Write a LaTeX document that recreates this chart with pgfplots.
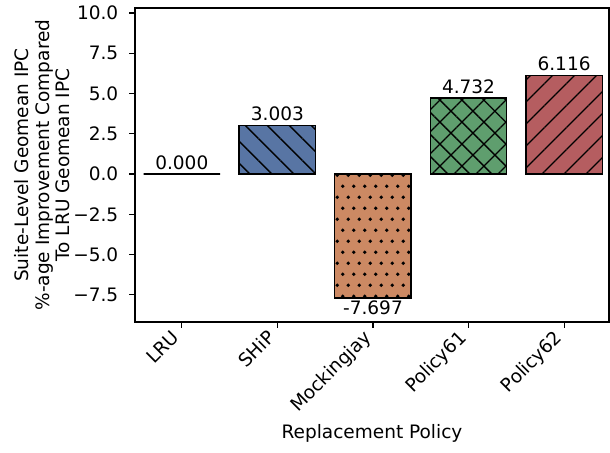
\documentclass[border=0pt]{standalone}
\usepackage{pgfplots}
\pgfplotsset{compat=1.18}
\usepackage{fontspec}
\setmainfont{DejaVu Sans}
\usetikzlibrary{patterns,patterns.meta}
\definecolor{cblue}{HTML}{5875A4}
\definecolor{corange}{HTML}{CC8963}
\definecolor{cgreen}{HTML}{5F9E6E}
\definecolor{cred}{HTML}{B55D60}
\pgfdeclarepatternformonly{sdots}{\pgfpointorigin}{\pgfpoint{5.94pt}{11.88pt}}{\pgfpoint{5.94pt}{11.88pt}}{%
  \pgfpathcircle{\pgfpoint{1.5pt}{1.5pt}}{1.0pt}%
  \pgfpathcircle{\pgfpoint{4.47pt}{7.44pt}}{1.0pt}%
  \pgfusepath{fill}}
\begin{document}
\fontsize{10}{11.5}\selectfont
\begin{tikzpicture}
\begin{axis}[
  scale only axis,
  width=256pt, height=169.6pt,
  xmin=-0.49, xmax=4.47,
  ymin=-9.19, ymax=10.31,
  xtick={0,1,2,3,4},
  xticklabels={LRU,SHiP,Mockingjay,Policy61,Policy62},
  xticklabel style={xshift=-6pt, yshift=1pt, rotate=45, anchor=north east, inner sep=1pt, font=\fontsize{10}{12}\selectfont},
  ytick={-7.5,-5,-2.5,0,2.5,5,7.5,10},
  yticklabels={−7.5,−5.0,−2.5,0.0,2.5,5.0,7.5,10.0},
  yticklabel style={xshift=-2.5pt, font=\fontsize{10}{12}\selectfont},
  tick align=outside,
  major tick length=3pt,
  xtick pos=bottom, ytick pos=left,
  axis line style={line width=0.6pt},
  tick style={line width=0.6pt, black},
  xlabel={Replacement Policy},
  ylabel={Suite-Level Geomean IPC\\\%-age Improvement Compared\\To LRU Geomean IPC},
  ylabel shift=-5pt,
  ylabel style={align=center, font=\fontsize{10}{11}\selectfont},
  xlabel style={font=\fontsize{10}{12}\selectfont},
  ybar, bar width=0.8, bar shift=0pt,
  nodes near coords,
  nodes near coords style={font=\fontsize{10}{12}\selectfont, inner sep=2pt, /pgf/number format/fixed, /pgf/number format/fixed zerofill, /pgf/number format/precision=3, /pgf/number format/assume math mode=true},
  every axis plot/.append style={draw=black, line width=0.8pt},
]
\addplot[fill=white] coordinates {(0,0.000)};
\addplot[fill=cblue, postaction={pattern={Lines[angle=-45,distance=8.4pt,line width=0.7pt]}, pattern color=black}] coordinates {(1,3.003)};
\addplot[fill=corange, postaction={pattern=sdots, pattern color=black}, nodes near coords style={inner sep=1pt}] coordinates {(2,-7.697)};
\addplot[fill=cgreen, postaction={pattern={Hatch[angle=45,distance=8.4pt,line width=0.7pt]}, pattern color=black}] coordinates {(3,4.732)};
\addplot[fill=cred, postaction={pattern={Lines[angle=45,distance=8.4pt,line width=0.7pt]}, pattern color=black}] coordinates {(4,6.116)};
\end{axis}
\pgfresetboundingbox
\path[use as bounding box] ([shift={(-72.9pt,-70.2pt)}]current axis.south west) rectangle ([shift={(0.54pt,4.32pt)}]current axis.north east);
\end{tikzpicture}
\end{document}
